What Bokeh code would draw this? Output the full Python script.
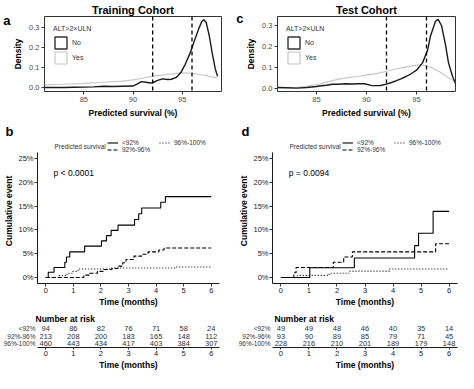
from bokeh.plotting import figure
from bokeh.layouts import column, row
from bokeh.models import (Range1d, FixedTicker, NumeralTickFormatter, Span, Label,
                          Legend, LegendItem, LinearAxis)
from bokeh.core.properties import value
from bokeh.embed import file_html
from bokeh.resources import INLINE

FONT = "Liberation Sans"
NAN = float("nan")

# ---------------- data ----------------
cutoffs = [92, 96]
density_xticks = [85, 90, 95]
density_yticks = [0.0, 0.1, 0.2, 0.3]
alt_groups = ["No", "Yes"]

# Training cohort density (ALT>2xULN: No / Yes)
train_no_x = [81.0, 82.0, 83.0, 84.0, 85.0, 86.0, 87.0, 88.0, 88.9, 90.0, 90.4, 90.86, 91.3, 91.8,
              92.1, 92.5, 93.0, 93.5, 93.9, 94.4, 94.85, 95.3, 95.77, 96.2, 96.7, 97.0, 97.2,
              97.45, 97.76, 98.07, 98.37, 98.6]
train_no_y = [0.002, 0.002, 0.002, 0.003, 0.004, 0.005, 0.008, 0.007, 0.008, 0.009, 0.019, 0.031,
              0.028, 0.024, 0.028, 0.037, 0.045, 0.042, 0.043, 0.052, 0.075, 0.116, 0.169, 0.228,
              0.296, 0.330, 0.339, 0.325, 0.258, 0.169, 0.094, 0.057]
train_yes_x = [81.0, 83.0, 85.0, 87.0, 88.9, 90.0, 91.0, 91.9, 92.7, 93.5, 94.2, 94.85, 95.4,
               95.9, 96.5, 97.1, 97.8, 98.6]
train_yes_y = [0.015, 0.018, 0.022, 0.028, 0.034, 0.040, 0.048, 0.057, 0.062, 0.067, 0.071,
               0.075, 0.075, 0.072, 0.068, 0.064, 0.057, 0.049]

# Test cohort density
test_no_x = [81.1, 82.0, 83.0, 84.0, 85.0, 85.3, 86.0, 86.6, 87.2, 87.9, 88.5, 89.2, 89.8, 90.45,
             91.0, 91.4, 92.0, 92.5, 93.0, 93.5, 94.0, 94.5, 95.0, 95.6, 96.1, 96.4, 96.9, 97.15,
             97.5, 97.9, 98.2, 98.6, 98.9]
test_no_y = [0.003, 0.002, 0.0, 0.003, 0.008, 0.010, 0.014, 0.019, 0.019, 0.021, 0.020, 0.021,
             0.021, 0.013, 0.012, 0.013, 0.019, 0.027, 0.036, 0.046, 0.057, 0.070, 0.086, 0.121,
             0.180, 0.250, 0.320, 0.329, 0.300, 0.207, 0.121, 0.057, 0.022]
test_yes_x = [81.1, 83.0, 84.0, 85.3, 86.2, 87.2, 88.2, 89.2, 90.1, 91.1, 92.0, 93.0, 94.0, 95.0,
              95.6, 96.4, 97.4, 98.2, 98.9]
test_yes_y = [0.002, 0.004, 0.009, 0.019, 0.031, 0.043, 0.050, 0.057, 0.064, 0.071, 0.081, 0.093,
              0.102, 0.110, 0.111, 0.100, 0.076, 0.050, 0.031]

# Cumulative event curves (step functions)
survival_groups = ["<92%", "92%-96%", "96%-100%"]
time_ticks = [0, 1, 2, 3, 4, 5, 6]
km_yticks = [0.0, 0.05, 0.10, 0.15, 0.20, 0.25]

train_lt92_t = [0, 0.09, 0.30, 0.69, 0.75, 0.87, 1.41, 2.02, 2.20, 2.37, 2.62, 3.22, 3.37, 3.48,
                4.17, 4.34, 6.0]
train_lt92_y = [0, 0.011, 0.021, 0.032, 0.043, 0.054, 0.066, 0.077, 0.088, 0.099, 0.110, 0.122,
                0.134, 0.146, 0.158, 0.170, 0.170]
train_mid_t = [0, 1.38, 1.59, 1.87, 2.08, 2.40, 2.62, 2.79, 2.91, 3.20, 3.48, 3.71, 4.10, 4.29, 6.0]
train_mid_y = [0, 0.005, 0.009, 0.013, 0.017, 0.019, 0.024, 0.031, 0.038, 0.045, 0.049, 0.054,
               0.058, 0.062, 0.062]
train_hi_t = [0, 0.48, 0.77, 0.95, 1.17, 2.38, 4.74, 6.0]
train_hi_y = [0, 0.004, 0.009, 0.013, 0.018, 0.020, 0.022, 0.022]

test_lt92_t = [0, 1.03, 2.62, 4.77, 4.91, 5.43, 6.0]
test_lt92_y = [0, 0.0205, 0.041, 0.067, 0.093, 0.139, 0.139]
test_mid_t = [0, 0.46, 0.54, 1.87, 2.24, 2.55, 5.52, 6.0]
test_mid_y = [0, 0.010, 0.021, 0.032, 0.043, 0.054, 0.071, 0.071]
test_hi_t = [0, 0.60, 1.72, 2.43, 3.87, 6.0]
test_hi_y = [0, 0.0045, 0.009, 0.0135, 0.018, 0.018]

train_pval = "p < 0.0001"
test_pval = "p = 0.0094"

# Number at risk
train_risk_lt92 = [94, 86, 82, 76, 71, 58, 24]
train_risk_mid = [213, 208, 200, 183, 165, 148, 112]
train_risk_hi = [460, 443, 434, 417, 403, 384, 307]
test_risk_lt92 = [49, 49, 48, 46, 40, 35, 14]
test_risk_mid = [93, 90, 89, 85, 79, 71, 45]
test_risk_hi = [228, 216, 210, 201, 189, 179, 148]

DASHES = ["solid", "4 2", "1 2"]
DARK = "#1a1a1a"
LIGHT = "#c8c8c8"

H_DENS, H_KM, H_RISK = 121, 190, 62
KM_YR = (-0.0125, 0.292)


def style_axes(p, tick_out=3, std=2, lab_std=3):
    p.xgrid.visible = False
    p.ygrid.visible = False
    p.background_fill_color = "white"
    p.border_fill_color = "white"
    for ax in p.axis:
        ax.major_label_text_font = FONT
        ax.major_label_text_font_size = "7.5px"
        ax.major_label_text_color = "#4d4d4d"
        ax.axis_label_text_font = FONT
        ax.axis_label_text_font_size = "8.5px"
        ax.axis_label_text_font_style = "bold"
        ax.axis_label_text_color = "black"
        ax.major_tick_in = 0
        ax.major_tick_out = tick_out
        ax.major_tick_line_color = "#333333"
        ax.minor_tick_line_color = None
        ax.major_label_standoff = std
        ax.axis_label_standoff = lab_std


def letter_axis(p, letter, y):
    ax = LinearAxis(ticker=FixedTicker(ticks=[y]), major_label_overrides={y: letter})
    ax.axis_line_color = None
    ax.major_tick_line_color = None
    ax.minor_tick_line_color = None
    ax.major_tick_in = 0
    ax.major_tick_out = 0
    ax.major_label_standoff = 0
    ax.major_label_text_font = FONT
    ax.major_label_text_font_size = "13px"
    ax.major_label_text_font_style = "bold"
    ax.major_label_text_color = "black"
    p.add_layout(ax, "left")


def set_title(p, text, size, align="center", offset=0, standoff=2):
    p.title.text = text
    p.title.text_font = FONT
    p.title.text_font_size = size
    p.title.text_font_style = "bold"
    p.title.text_color = "black"
    p.title.align = align
    p.title.offset = offset
    p.title.standoff = standoff


def density_fig(width, mbl, mbr, xr, yr, no_x, no_y, yes_x, yes_y, title, let):
    p = figure(width=width, height=H_DENS, x_range=Range1d(*xr), y_range=Range1d(*yr),
               output_backend="svg", toolbar_location=None,
               min_border_left=mbl, min_border_right=mbr, min_border_top=16, min_border_bottom=30)
    style_axes(p)
    set_title(p, title, "11px")
    p.outline_line_color = "#333333"
    p.outline_line_width = 1
    p.xaxis.axis_line_color = None
    p.yaxis.axis_line_color = None
    p.xaxis.ticker = FixedTicker(ticks=density_xticks)
    p.yaxis.ticker = FixedTicker(ticks=density_yticks)
    p.yaxis.formatter = NumeralTickFormatter(format="0.0")
    p.xaxis.axis_label = "Predicted survival (%)"
    p.yaxis.axis_label = "Density"
    p.line(yes_x, yes_y, line_color=LIGHT, line_width=1.2)
    p.line(no_x, no_y, line_color=DARK, line_width=1.4)
    for c in cutoffs:
        p.add_layout(Span(location=c, dimension="height", line_color="black",
                          line_width=1.3, line_dash="4 3"))
    k_no = p.quad(left=[NAN], right=[NAN], top=[NAN], bottom=[NAN], fill_color="white",
                  line_color="#333333", line_width=1.4)
    k_yes = p.quad(left=[NAN], right=[NAN], top=[NAN], bottom=[NAN], fill_color="white",
                   line_color=LIGHT, line_width=1.2)
    lg = Legend(items=[LegendItem(label=alt_groups[0], renderers=[k_no]),
                       LegendItem(label=alt_groups[1], renderers=[k_yes])],
                title="ALT>2×ULN", location=(9, 26), margin=0, padding=2,
                glyph_width=15, glyph_height=15, label_height=15, spacing=0,
                label_standoff=4, label_text_font=FONT, label_text_font_size="7px",
                label_text_color="#333333",
                title_text_font=FONT, title_text_font_size="7px", title_text_font_style="normal",
                title_text_color="#333333", title_standoff=3,
                background_fill_alpha=0, border_line_color=None)
    p.add_layout(lg)
    letter_axis(p, let, 0.335)
    return p


def km_fig(width, mbl, mbr, curves, pval, let, let_offset):
    p = figure(width=width, height=H_KM, x_range=Range1d(-0.3, 6.3), y_range=Range1d(*KM_YR),
               output_backend="svg", toolbar_location=None,
               min_border_left=mbl, min_border_right=mbr, min_border_top=14, min_border_bottom=28)
    style_axes(p, std=1, lab_std=1)
    set_title(p, let, "13px", align="left", offset=let_offset, standoff=0)
    p.outline_line_color = None
    for ax in p.axis:
        ax.axis_line_color = "black"
        ax.axis_line_width = 0.9
        ax.major_label_text_color = "#222222"
    p.xaxis.ticker = FixedTicker(ticks=time_ticks)
    p.yaxis.ticker = FixedTicker(ticks=km_yticks)
    p.yaxis.formatter = NumeralTickFormatter(format="0%")
    p.xaxis.bounds = (-0.3, 6.3)
    p.yaxis.bounds = (-0.0125, 0.2625)
    p.xaxis.axis_label = "Time (months)"
    p.yaxis.axis_label = "Cumulative event"
    items = []
    for (t, y), name, dash in zip(curves, survival_groups, DASHES):
        r = p.step(t, y, mode="after", line_color="black", line_width=1.1, line_dash=dash)
        items.append(LegendItem(label=name, renderers=[r]))
    lg = Legend(items=items, location=(70, 130.5), orientation="vertical", nrows=2,
                glyph_width=11, glyph_height=7, label_height=7, label_width=37, spacing=0,
                padding=0, margin=0, label_standoff=4, label_text_font=FONT,
                label_text_font_size="6.5px", label_text_color="#333333",
                background_fill_alpha=0, border_line_color=None)
    p.add_layout(lg)
    p.add_layout(Label(x=17, y=137.5, x_units="screen", y_units="screen",
                       text="Predicted survival", text_font=FONT, text_font_size="6.5px",
                       text_color="#333333", text_baseline="middle", text_align="left"))
    p.add_layout(Label(x=0.28, y=0.22, text=pval, text_font=FONT, text_font_size="8.5px",
                       text_color="black", text_baseline="middle", text_align="left"))
    return p


def risk_fig(width, mbl, mbr, counts, title_offset):
    p = figure(width=width, height=H_RISK, x_range=Range1d(-0.3, 6.3),
               y_range=Range1d(2.5, -0.5),
               output_backend="svg", toolbar_location=None,
               min_border_left=mbl, min_border_right=mbr, min_border_top=12, min_border_bottom=26)
    style_axes(p, tick_out=2, std=1, lab_std=1)
    set_title(p, "Number at risk", "8.5px", align="left", offset=title_offset, standoff=1)
    p.outline_line_color = None
    p.xaxis.axis_line_color = "black"
    p.xaxis.axis_line_width = 0.9
    p.xaxis.major_label_text_color = "#222222"
    p.xaxis.ticker = FixedTicker(ticks=time_ticks)
    p.xaxis.bounds = (-0.3, 6.3)
    p.xaxis.axis_label = "Time (months)"
    ya = p.yaxis[0]
    ya.ticker = FixedTicker(ticks=list(range(len(survival_groups))))
    ya.major_label_overrides = {i: g for i, g in enumerate(survival_groups)}
    ya.axis_line_color = None
    ya.major_tick_line_color = None
    ya.major_tick_out = 0
    ya.major_label_standoff = 2
    ya.major_label_text_font_size = "6.5px"
    ya.major_label_text_color = "#333333"
    xs, ys, txt = [], [], []
    for i, row_counts in enumerate(counts):
        for t, n in zip(time_ticks, row_counts):
            xs.append(t)
            ys.append(i)
            txt.append(str(n))
    p.text(x=xs, y=ys, text=txt, text_align="center", text_baseline="middle",
           text_font=value(FONT), text_font_size="7.5px", text_color="#333333")
    return p


pa = density_fig(229, 35, 8, (81.0, 99.0), (-0.018, 0.355), train_no_x, train_no_y,
                 train_yes_x, train_yes_y, "Training Cohort", "a")
pc = density_fig(229, 48, 3, (81.1, 98.9), (-0.016, 0.343), test_no_x, test_no_y,
                 test_yes_x, test_yes_y, "Test Cohort", "c")
pb = km_fig(229, 37, 10, [(train_lt92_t, train_lt92_y), (train_mid_t, train_mid_y),
                          (train_hi_t, train_hi_y)], train_pval, "b", -32)
pd = km_fig(229, 43, 1, [(test_lt92_t, test_lt92_y), (test_mid_t, test_mid_y),
                         (test_hi_t, test_hi_y)], test_pval, "d", -31)
rb = risk_fig(229, 37, 10, [train_risk_lt92, train_risk_mid, train_risk_hi], -2)
rd = risk_fig(229, 43, 1, [test_risk_lt92, test_risk_mid, test_risk_hi], 2)

layout = column(row(pa, pc), row(pb, pd), row(rb, rd))
open("out.html", "w").write(file_html(layout, INLINE))
